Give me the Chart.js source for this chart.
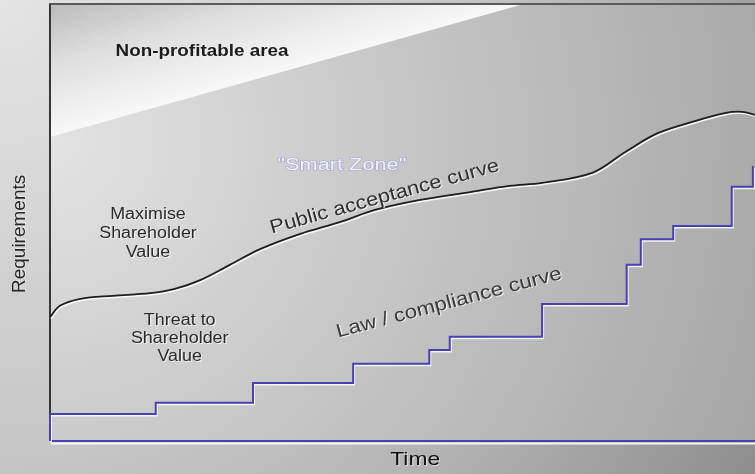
<!DOCTYPE html>
<html><head><meta charset="utf-8">
<script src="https://cdn.jsdelivr.net/npm/chart.js@4/dist/chart.umd.min.js"></script>
<style>html,body{margin:0;padding:0;background:#c8c8c8;overflow:hidden}</style>
</head><body>
<canvas id="c" width="755" height="474"></canvas>
<script>
// ---- data (Time 0..100, Requirements 0..100) ----
const publicX = [0, 1.4, 4.3, 8.9, 14.2, 17.7, 21.3, 25.5, 29.8, 35.5, 41.1, 46.1, 52.5, 59.6, 65.2, 69.8, 76.9, 81.6, 86.2, 91.1, 95.7, 98.2, 100];
const publicY = [28.4, 31.0, 32.6, 33.3, 33.9, 34.9, 36.9, 40.4, 44.0, 47.5, 50.2, 53.0, 55.3, 57.1, 58.5, 59.2, 61.5, 66.3, 70.6, 73.2, 75.2, 75.5, 74.8];
const lawX = [0, 0, 15.0, 28.8, 43.0, 53.8, 56.7, 69.8, 81.8, 83.8, 88.4, 96.7, 99.7];
const lawY = [0, 6.2, 8.8, 13.3, 17.7, 20.9, 23.9, 31.4, 40.4, 46.3, 49.3, 58.3, 63.1];
const axisTitles = ['Time', 'Requirements'];
const areaLabels = ['Non-profitable area', '"Smart Zone"'];
const zoneLabels = [['Maximise', 'Shareholder', 'Value'], ['Threat to', 'Shareholder', 'Value']];
const curveLabels = ['Public acceptance curve', 'Law / compliance curve'];
// boundary of the non-profitable area (data units)
const npaBoundaryX = [0, 66.7];
const npaBoundaryY = [69.7, 100];

const FONT = '"Liberation Sans", Arial, sans-serif';
const annotations = [
  {lines:[areaLabels[0]], x:21.56, y:89.45, rot:0, font:'bold 17px '+FONT, sx:1.11, color:'#1c1c1c', halo:'rgba(255,255,255,0.35)'},
  {lines:[areaLabels[1]], x:41.4, y:63.1, rot:0, font:'16px '+FONT, sx:1.36, color:'#f2f1ff', stroke:'rgba(140,135,205,0.55)'},
  {lines:zoneLabels[0], x:13.9, y:47.5, rot:0, font:'16px '+FONT, sx:1.12, lh:19, color:'#2a2a2a', halo:'rgba(255,255,255,0.7)'},
  {lines:zoneLabels[1], x:18.4, y:23.4, rot:0, font:'16px '+FONT, sx:1.12, lh:18, color:'#2a2a2a', halo:'rgba(255,255,255,0.7)'},
  {lines:[curveLabels[0]], x:47.66, y:54.8, rot:-15.4, font:'19px '+FONT, sx:1.15, color:'#2e2e2e', halo:'rgba(255,255,255,0.7)', baseline:'alphabetic'},
  {lines:[curveLabels[1]], x:56.8, y:30.5, rot:-14.7, font:'19px '+FONT, sx:1.17, color:'#3a3a3a', halo:'rgba(255,255,255,0.7)', baseline:'alphabetic'},
  {lines:[axisTitles[1]], x:-4.26, y:47.5, rot:-90, font:'19px '+FONT, sx:1.0, color:'#262626', halo:'rgba(255,255,255,0.5)'},
  {lines:[axisTitles[0]], x:51.8, y:-4.36, rot:0, font:'19px '+FONT, sx:1.2, color:'#111111', halo:'rgba(255,255,255,0.5)'}
];

const bgPlugin = {
  id:'bg',
  beforeDraw(chart){
    const ctx = chart.ctx, W = chart.width, H = chart.height;
    const {left, top, right, bottom} = chart.chartArea;
    const sx = chart.scales.x, sy = chart.scales.y;
    ctx.save();
    let g = ctx.createRadialGradient(0,0,0,0,0,900);
    g.addColorStop(0,'#e4e4e4'); g.addColorStop(0.5,'#c6c6c6'); g.addColorStop(0.7,'#b3b3b3'); g.addColorStop(1,'#8c8c8c');
    ctx.fillStyle = g; ctx.fillRect(0,0,W,H);
    g = ctx.createRadialGradient(left, top+135, 0, left, top+135, 800);
    g.addColorStop(0,'#e3e3e3'); g.addColorStop(0.4,'#c9c9c9'); g.addColorStop(1,'#a3a3a3');
    ctx.fillStyle = g; ctx.fillRect(left, top, right-left, bottom-top);
    // non-profitable area
    const p0 = {x:sx.getPixelForValue(npaBoundaryX[0]), y:sy.getPixelForValue(npaBoundaryY[0])};
    const p1 = {x:sx.getPixelForValue(npaBoundaryX[1]), y:sy.getPixelForValue(npaBoundaryY[1])};
    const dx = p1.x-p0.x, dy = p1.y-p0.y, L = Math.hypot(dx,dy), ux = dx/L, uy = dy/L;
    const t = (left-p0.x)*ux + (top-p0.y)*uy;
    const fx = p0.x + ux*t, fy = p0.y + uy*t;
    g = ctx.createLinearGradient(fx, fy, left, top);
    g.addColorStop(0,'#f8f8f8'); g.addColorStop(0.55,'#dedede'); g.addColorStop(1,'#bcbcbc');
    ctx.fillStyle = g;
    ctx.beginPath(); ctx.moveTo(left, top); ctx.lineTo(p0.x, p0.y); ctx.lineTo(p1.x, p1.y); ctx.closePath(); ctx.fill();
    ctx.restore();
  },
  beforeDatasetsDraw(chart){
    const ctx = chart.ctx; const {left, top, right, bottom} = chart.chartArea;
    ctx.save();
    ctx.lineWidth = 2;
    ctx.strokeStyle = '#5a5a5a';
    ctx.beginPath(); ctx.moveTo(left-1, top-1); ctx.lineTo(right, top-1); ctx.stroke();
    ctx.strokeStyle = '#363636';
    ctx.beginPath(); ctx.moveTo(left, top-1); ctx.lineTo(left, bottom); ctx.stroke();
    ctx.strokeStyle = 'rgba(255,255,255,0.9)';
    ctx.beginPath(); ctx.moveTo(left+1, bottom+2.5); ctx.lineTo(right, bottom+2.5); ctx.stroke();
    ctx.strokeStyle = '#4b3fb4';
    ctx.beginPath(); ctx.moveTo(left, bottom); ctx.lineTo(right, bottom); ctx.stroke();
    ctx.restore();
  },
  beforeDatasetDraw(chart){
    const ctx = chart.ctx; ctx.save();
    ctx.shadowColor = 'rgba(255,255,255,0.85)'; ctx.shadowOffsetX = 1; ctx.shadowOffsetY = 1.5; ctx.shadowBlur = 0;
  },
  afterDatasetDraw(chart){ chart.ctx.restore(); },
  afterDatasetsDraw(chart){
    const ctx = chart.ctx, sx = chart.scales.x, sy = chart.scales.y;
    annotations.forEach(a => {
      ctx.save();
      ctx.translate(sx.getPixelForValue(a.x), sy.getPixelForValue(a.y));
      ctx.rotate(a.rot*Math.PI/180);
      ctx.scale(a.sx, 1);
      ctx.font = a.font; ctx.textAlign = 'center'; ctx.textBaseline = a.baseline || 'middle';
      const n = a.lines.length, lh = a.lh || 0;
      a.lines.forEach((txt, i) => {
        const yy = (i-(n-1)/2)*lh;
        if (a.halo){ ctx.fillStyle = a.halo; ctx.fillText(txt, 1, yy+1); }
        if (a.stroke){ ctx.strokeStyle = a.stroke; ctx.lineWidth = 1.2; ctx.strokeText(txt, 0, yy); }
        ctx.fillStyle = a.color; ctx.fillText(txt, 0, yy);
      });
      ctx.restore();
    });
  }
};

new Chart(document.getElementById('c'), {
  type:'scatter',
  data:{datasets:[
    {label:'Public acceptance curve', data:publicX.map((x,i)=>({x, y:publicY[i]})), showLine:true,
     borderColor:'#1e1e1e', borderWidth:1.8, pointRadius:0, tension:0.35, clip:6},
    {label:'Law / compliance curve', data:lawX.map((x,i)=>({x, y:lawY[i]})), showLine:true, stepped:true,
     borderColor:'#4b3fb4', borderWidth:2, pointRadius:0, clip:6}
  ]},
  options:{
    responsive:false, animation:false, devicePixelRatio:1,
    layout:{padding:{left:50, right:0, top:5, bottom:33}},
    plugins:{legend:{display:false}, tooltip:{enabled:false}},
    scales:{
      x:{type:'linear', min:0, max:100, display:false},
      y:{type:'linear', min:0, max:100, display:false}
    }
  },
  plugins:[bgPlugin]
});
</script>
</body></html>
